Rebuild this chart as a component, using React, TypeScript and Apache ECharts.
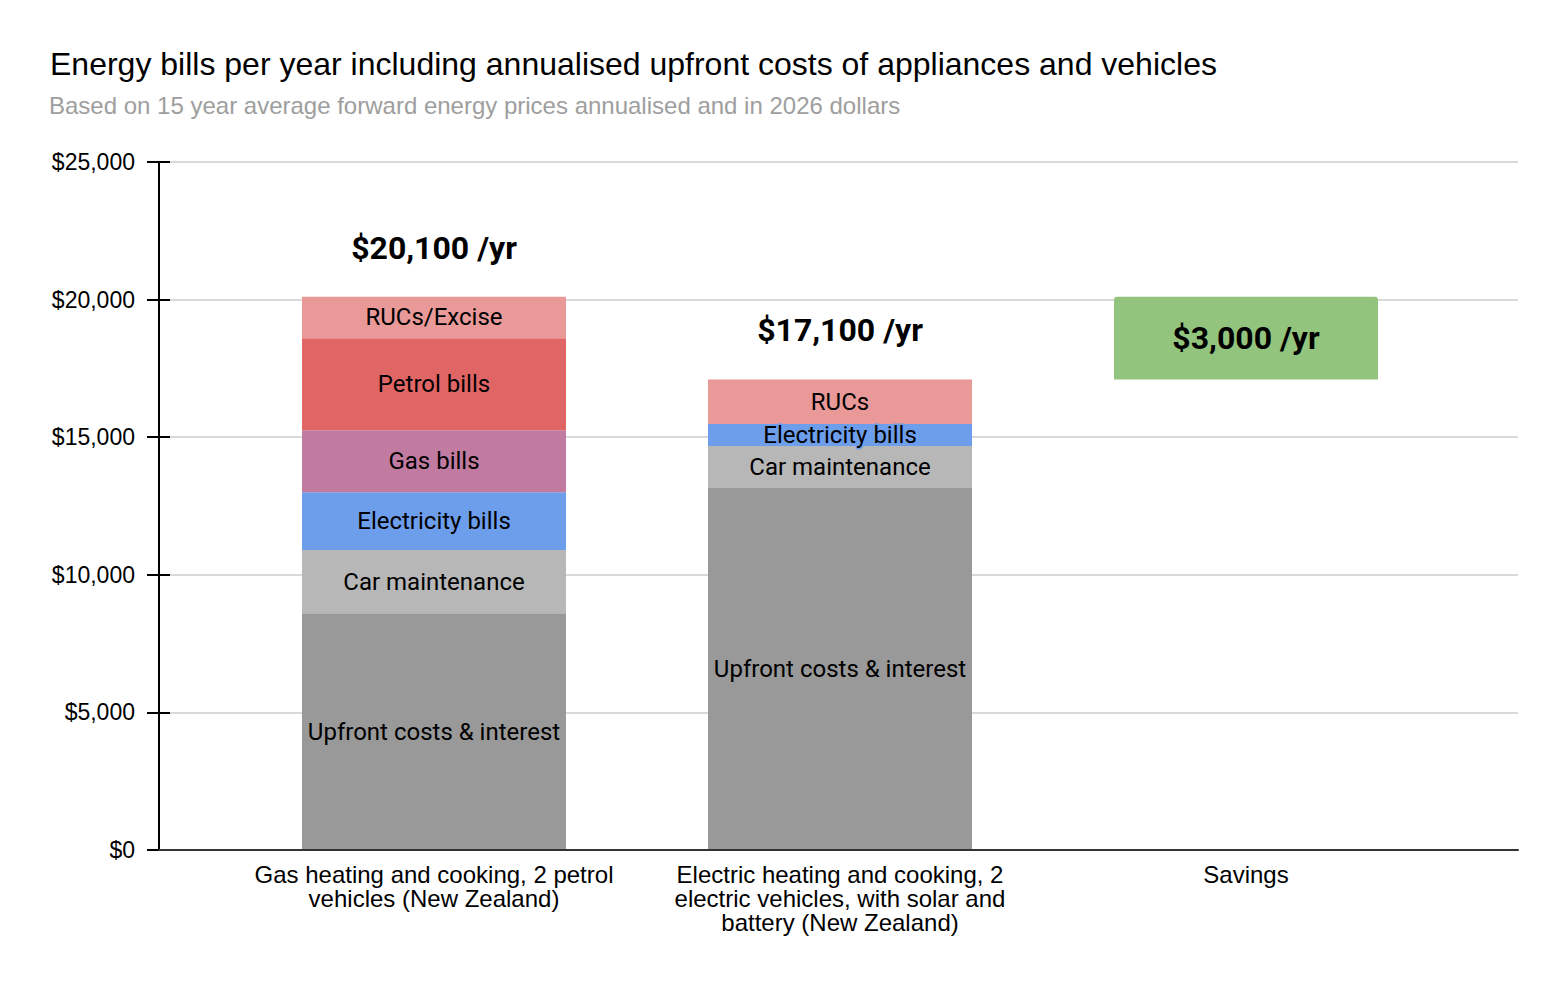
import React, { useEffect, useRef } from 'react';
import * as echarts from 'echarts';

// categories (x axis)
const categories = [
    'Gas heating and cooking, 2 petrol\nvehicles (New Zealand)',
    'Electric heating and cooking, 2\nelectric vehicles, with solar and\nbattery (New Zealand)',
    'Savings'
];

// stacked cost components, $ per year
const upfront = [8600, 13150, null];
const carMaintenance = [2300, 1530, null];
const electricity = [2100, 800, null];
const gasBills = [2250, null, null];
const petrolBills = [3350, null, null];
const rucs = [1500, 1620, null];

// savings bar floats between the two totals
const savingsBase = [null, null, 17100];
const savings = [null, null, 3000];

const totalLabels = ['$20,100 /yr', '$17,100 /yr', ''];
const savingsLabel = '$3,000 /yr';

const yTicks = [0, 5000, 10000, 15000, 20000, 25000];

const segLabel = {
    show: true,
    position: 'inside',
    color: '#000',
    fontFamily: 'Roboto',
    fontSize: 24
};

const App = () => {
    const chartRef = useRef<HTMLDivElement>(null);

    useEffect(() => {
        if (!chartRef.current) return;
        const myChart = echarts.init(chartRef.current, null, { renderer: 'svg' });

        const yMin = yTicks[0];
        const yMax = yTicks[yTicks.length - 1];
        const step = yTicks[1] - yTicks[0];

        const bar = (name: string, data: any[], color: string, label: any = segLabel) => ({
            name,
            type: 'bar',
            stack: 'total',
            xAxisIndex: 1,
            yAxisIndex: 2,
            barWidth: 264,
            data,
            itemStyle: { color },
            label: { ...label, formatter: name }
        });

        const option = {
            animation: false,
            title: [
                {
                    text: 'Energy bills per year including annualised upfront costs of appliances and vehicles',
                    left: 45,
                    top: 43,
                    textStyle: { fontFamily: 'Liberation Sans', fontSize: 32, fontWeight: 'normal', color: '#000' }
                },
                {
                    text: 'Based on 15 year average forward energy prices annualised and in 2026 dollars',
                    left: 44,
                    top: 88,
                    textStyle: { fontFamily: 'Liberation Sans', fontSize: 24, fontWeight: 'normal', color: '#9e9e9e' }
                }
            ],
            grid: [
                { left: 159, right: 50, top: 162, bottom: 134 },
                { left: 231, right: 119, top: 162, bottom: 134 }
            ],
            xAxis: [
                {
                    type: 'category',
                    gridIndex: 0,
                    data: [''],
                    z: 5,
                    axisLine: { lineStyle: { color: '#333', width: 2 } },
                    axisTick: { show: false },
                    axisLabel: { show: false }
                },
                {
                    type: 'category',
                    gridIndex: 1,
                    data: categories,
                    axisLine: { show: false },
                    axisTick: { show: false },
                    axisLabel: {
                        color: '#000',
                        fontFamily: 'Liberation Sans',
                        fontSize: 24,
                        lineHeight: 24,
                        margin: 12,
                        interval: 0
                    }
                }
            ],
            yAxis: [
                {
                    type: 'value',
                    gridIndex: 0,
                    position: 'left',
                    min: yMin,
                    max: yMax,
                    interval: step,
                    axisLine: { show: true, lineStyle: { color: '#000', width: 2 } },
                    axisTick: { show: true, length: 12, lineStyle: { color: '#000', width: 2 } },
                    axisLabel: {
                        color: '#000',
                        fontFamily: 'Liberation Sans',
                        fontSize: 23,
                        margin: 24,
                        formatter: (v: number) => '$' + v.toLocaleString('en-US')
                    },
                    splitLine: { lineStyle: { color: '#cccccc', width: 1.5 } }
                },
                {
                    type: 'value',
                    gridIndex: 0,
                    position: 'left',
                    offset: 0,
                    min: yMin,
                    max: yMax,
                    interval: step,
                    axisLine: { show: true, lineStyle: { color: '#000', width: 2 } },
                    axisTick: { show: true, inside: true, length: 11, lineStyle: { color: '#000', width: 2 } },
                    axisLabel: { show: false },
                    splitLine: { show: false }
                },
                {
                    type: 'value',
                    gridIndex: 1,
                    min: yMin,
                    max: yMax,
                    interval: step,
                    show: false,
                    splitLine: { show: false }
                }
            ],
            series: [
                { type: 'bar', xAxisIndex: 0, yAxisIndex: 0, data: [] },
                bar('Upfront costs & interest', upfront, '#999999'),
                bar('Car maintenance', carMaintenance, '#b7b7b7'),
                {
                    ...bar('Electricity bills', electricity, '#6d9eeb'),
                    data: electricity.map((v, i) => i === 1
                        ? { value: v, label: { textBorderColor: '#6d9eeb', textBorderWidth: 3 } }
                        : v)
                },
                bar('Gas bills', gasBills, '#c27ba0'),
                bar('Petrol bills', petrolBills, '#e06666'),
                {
                    ...bar('RUCs', rucs, '#ea9999'),
                    label: { ...segLabel, formatter: (p: any) => (p.dataIndex === 0 ? 'RUCs/Excise' : 'RUCs') }
                },
                {
                    name: 'Total',
                    type: 'bar',
                    stack: 'total',
                    xAxisIndex: 1,
                    yAxisIndex: 2,
                    barWidth: 264,
                    data: totalLabels.map(t => (t ? 0 : null)),
                    itemStyle: { color: 'transparent' },
                    label: {
                        show: true,
                        position: 'top',
                        distance: 33,
                        color: '#000',
                        fontFamily: 'Roboto',
                        fontWeight: 'bold',
                        fontSize: 32,
                        formatter: (p: any) => totalLabels[p.dataIndex]
                    }
                },
                {
                    name: 'Base',
                    type: 'bar',
                    stack: 'total',
                    xAxisIndex: 1,
                    yAxisIndex: 2,
                    barWidth: 264,
                    data: savingsBase,
                    itemStyle: { color: 'transparent' }
                },
                {
                    name: 'Savings',
                    type: 'bar',
                    stack: 'total',
                    xAxisIndex: 1,
                    yAxisIndex: 2,
                    barWidth: 264,
                    data: savings,
                    itemStyle: { color: '#93c47d', borderRadius: [3, 3, 0, 0] },
                    label: {
                        show: true,
                        position: 'inside',
                        color: '#000',
                        fontFamily: 'Roboto',
                        fontWeight: 'bold',
                        fontSize: 32,
                        formatter: savingsLabel
                    }
                }
            ]
        };

        myChart.setOption(option);

        return () => {
            myChart.dispose();
        };
    }, []);

    return (
        <div
            ref={chartRef}
            style={{ position: 'absolute', left: 0, top: 0, width: '1568px', height: '984px', background: '#fff' }}
        />
    );
};

export default App;
